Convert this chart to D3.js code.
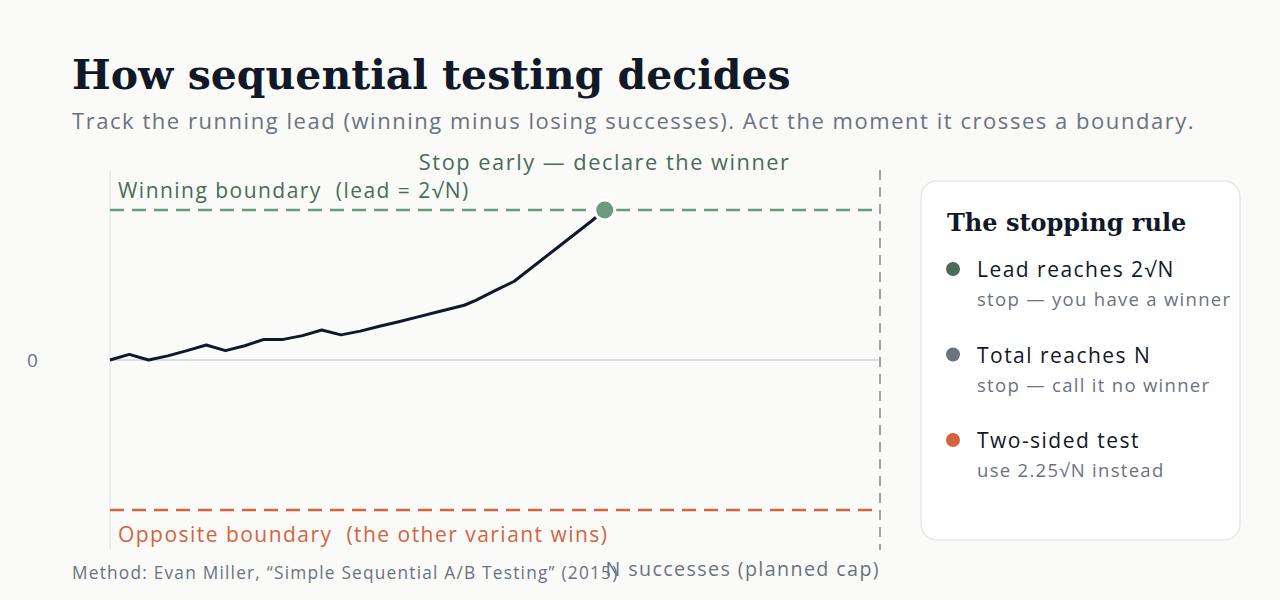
<!doctype html>
<html>
<head>
<meta charset="UTF-8">
<title>How sequential testing decides</title>
<script src="https://cdn.jsdelivr.net/npm/d3@7"></script>
<style>
  body { margin: 0; background: #fafaf8; }
  text { font-family: "Open Sans", sans-serif; letter-spacing: 0.07em; white-space: pre; }
  .serif { font-family: "DejaVu Serif", serif; font-weight: bold; letter-spacing: 0; }
</style>
</head>
<body>
<div id="chart"></div>
<script>
    // data
    var capN = 400;                      // planned cap N
    var bound = 2 * Math.sqrt(capN);     // winning boundary, lead = 2√N
    var successes = [0, 10, 20, 30, 40, 50, 60, 70, 80, 90, 100, 110, 120, 130, 140, 150, 160, 170, 184, 190, 200, 210, 220, 230, 240, 250, 257];
    var lead      = [0, 1.5, 0, 1.1, 2.5, 4, 2.5, 3.8, 5.5, 5.5, 6.5, 8, 6.7, 7.7, 9, 10.2, 11.5, 12.8, 14.6, 15.9, 18.5, 21, 25, 29, 33, 37, 40];

    var legendTitles = ["Lead reaches 2√N", "Total reaches N", "Two-sided test"];
    var legendNotes  = ["stop — you have a winner", "stop — call it no winner", "use 2.25√N instead"];
    var legendColors = ["#4b6b58", "#6b7280", "#d4643f"];

    var width = 1280, height = 600;

    var svg = d3.select("#chart").append("svg")
        .attr("width", width)
        .attr("height", height);

    svg.append("rect").attr("width", width).attr("height", height).attr("fill", "#fafaf8");

    var x = d3.scaleLinear().domain([0, capN]).range([110, 880]);
    var y = d3.scaleLinear().domain([-bound, bound]).range([510, 210]);

    // title + subtitle
    svg.append("text").attr("class", "serif")
        .attr("x", 72).attr("y", 89)
        .attr("font-size", 41).attr("fill", "#111827")
        .text("How sequential testing decides");

    svg.append("text")
        .attr("x", 72).attr("y", 129)
        .attr("font-size", 22).attr("fill", "#6b7280")
        .text("Track the running lead (winning minus losing successes). Act the moment it crosses a boundary.");

    // left axis line + zero line
    svg.append("line")
        .attr("x1", x(0)).attr("x2", x(0)).attr("y1", 170).attr("y2", 550)
        .style("stroke", "#e5e7eb").style("stroke-width", 1.5);

    svg.append("line")
        .attr("x1", x(0)).attr("x2", x(capN)).attr("y1", y(0)).attr("y2", y(0))
        .style("stroke", "#d1d5db").style("stroke-width", 1.5);

    svg.append("text")
        .attr("x", 33).attr("y", y(0))
        .attr("dy", "0.35em").attr("text-anchor", "middle")
        .attr("font-size", 19).attr("fill", "#6b7280")
        .text("0");

    // boundaries
    svg.append("line")
        .attr("x1", x(0)).attr("x2", x(capN)).attr("y1", y(bound)).attr("y2", y(bound))
        .style("stroke", "#6b9a80").style("stroke-width", 2.5)
        .style("stroke-dasharray", "14,8");

    svg.append("line")
        .attr("x1", x(0)).attr("x2", x(capN)).attr("y1", y(-bound)).attr("y2", y(-bound))
        .style("stroke", "#d4643f").style("stroke-width", 2.5)
        .style("stroke-dasharray", "14,8");

    // planned cap
    svg.append("line")
        .attr("x1", x(capN)).attr("x2", x(capN)).attr("y1", 170).attr("y2", 550)
        .style("stroke", "#9ca3af").style("stroke-width", 2)
        .style("stroke-dasharray", "10,7");

    svg.append("text")
        .attr("x", 118).attr("y", y(bound) - 12)
        .attr("font-size", 21).attr("fill", "#4b6b58")
        .text("Winning boundary  (lead = 2√N)");

    svg.append("text")
        .attr("x", 118).attr("y", y(-bound) + 32)
        .attr("font-size", 21).attr("fill", "#d4643f")
        .text("Opposite boundary  (the other variant wins)");

    svg.append("text")
        .attr("x", x(capN)).attr("y", 576)
        .attr("text-anchor", "end")
        .attr("font-size", 19.7).attr("fill", "#6b7280")
        .text("N successes (planned cap)");

    svg.append("text")
        .attr("x", 72).attr("y", 579)
        .attr("font-size", 17.3).attr("fill", "#6b7280")
        .text("Method: Evan Miller, “Simple Sequential A/B Testing” (2015)");

    // running lead
    var pts = successes.map(function (d, i) { return [d, lead[i]]; });

    svg.append("path")
        .datum(pts)
        .attr("d", d3.line().x(function (d) { return x(d[0]); }).y(function (d) { return y(d[1]); }))
        .style("fill", "none")
        .style("stroke", "#111827")
        .style("stroke-width", 3)
        .style("stroke-linejoin", "round");

    var last = pts[pts.length - 1];

    svg.append("circle")
        .attr("cx", x(last[0])).attr("cy", y(last[1])).attr("r", 10)
        .style("fill", "#6b9a80")
        .style("stroke", "#ffffff").style("stroke-width", 3);

    svg.append("text")
        .attr("x", x(last[0])).attr("y", 170)
        .attr("text-anchor", "middle")
        .attr("font-size", 21.8).attr("fill", "#4b6b58")
        .text("Stop early — declare the winner");

    // legend card
    var lg = svg.append("g").attr("transform", "translate(921,181)");

    lg.append("rect")
        .attr("width", 319).attr("height", 359).attr("rx", 16)
        .style("fill", "#ffffff").style("stroke", "#e5e7eb").style("stroke-width", 1.5);

    lg.append("text").attr("class", "serif")
        .attr("x", 26).attr("y", 50)
        .attr("font-size", 24).attr("fill", "#111827")
        .text("The stopping rule");

    var items = lg.selectAll(".item")
        .data(legendTitles)
        .enter()
        .append("g")
        .attr("class", "item")
        .attr("transform", function (d, i) { return "translate(0," + (88 + i * 85.5) + ")"; });

    items.append("circle")
        .attr("cx", 32).attr("cy", 0).attr("r", 7)
        .style("fill", function (d, i) { return legendColors[i]; });

    items.append("text")
        .attr("x", 56).attr("y", 8)
        .attr("font-size", 21).attr("fill", "#111827")
        .text(function (d) { return d; });

    items.append("text")
        .attr("x", 56).attr("y", 37)
        .attr("font-size", 18.5).attr("fill", "#6b7280")
        .text(function (d, i) { return legendNotes[i]; });
</script>
</body>
</html>
